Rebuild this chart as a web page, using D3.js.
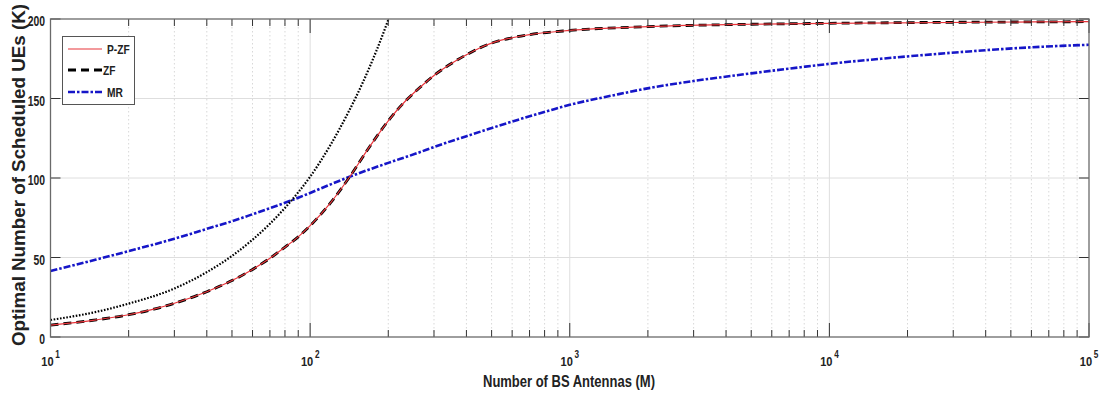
<!DOCTYPE html>
<html>
<head>
<meta charset="utf-8">
<script src="https://cdn.jsdelivr.net/npm/d3@7"></script>
<style>
  html, body { margin: 0; padding: 0; background: #fff; }
  svg { display: block; font-family: "Liberation Sans", Arial, sans-serif; }
</style>
</head>
<body>
<svg id="chart" width="1107" height="398"></svg>
<script>
// ---- data ----
const M_pzf = [10,15,20,25,30,40,50,60,70,80,90,100,120,141,170,200,230,260,300,350,400,450,500,600,700,1000,2000,5000,10000,100000];
const K_pzf = [7.5,10.8,14,17.5,21.2,28.5,35.5,42.5,49.5,56.5,63,70,84.5,100,120,136,147.5,155.8,164.5,172,177.5,181.8,184.8,188.2,190.2,192.8,195.2,196.7,197.3,198.3];
const M_zf = [10,15,20,25,30,40,50,60,70,80,90,100,120,141,170,200,230,260,300,350,400,450,500,600,700,1000,2000,5000,10000,100000];
const K_zf = [7.5,10.8,14,17.5,21.2,28.5,35.5,42.5,49.5,56.5,63,70,84.5,100,120,136,147.5,155.8,164.5,172,177.5,181.8,184.8,188.2,190.2,192.8,195.2,196.7,197.3,198.3];
const M_mr = [10,15,20,30,40,50,60,70,80,90,100,120,141,170,200,260,300,400,470,600,850,1000,1500,2060,3000,5000,7770,10000,15800,25000,38600,60000,100000];
const K_mr = [41.5,48.7,54,61.8,68,72.8,77.2,81,84.4,87.6,90.6,96,100.6,105.5,109.5,115.8,119.5,126.3,130,135.5,142.8,146,152.3,156.8,161,165.8,169.7,171.8,175,177.8,180.2,182.2,183.8];
const M_bound = [10,15,20,30,40,50,60,70,80,90,100,120,140,160,180,200,210];
const K_bound = [10.7,15.8,21,30.5,40.8,51,61.2,71.2,81.2,91,100.8,121,141,160.5,180,199.5,209];

const yTicks = [0, 50, 100, 150, 200];
const xDecades = [1, 2, 3, 4, 5];
const legendLabels = ["P-ZF", "ZF", "MR"];
const xTitle = "Number of BS Antennas (M)";
const yTitle = "Optimal Number of Scheduled UEs (K)";

// ---- layout ----
const L = 50.5, R = 1089, T = 19, B = 337;
const svg = d3.select("#chart");
const x = d3.scaleLog().domain([10, 100000]).range([L, R]);
const y = d3.scaleLinear().domain([0, 200]).range([B, T]);

const minorTicks = [];
for (let d = 1; d < 5; d++) for (let k = 2; k <= 9; k++) minorTicks.push(k * Math.pow(10, d));
const majorTicks = xDecades.map(e => Math.pow(10, e));

// grid
const grid = svg.append("g");
grid.selectAll("line.minor").data(minorTicks).join("line")
  .attr("x1", d => x(d)).attr("x2", d => x(d)).attr("y1", T).attr("y2", B)
  .attr("stroke", "#d8d8d8").attr("stroke-width", 1).attr("stroke-dasharray", "1.5,2.5");
grid.selectAll("line.majx").data(majorTicks.slice(1, -1)).join("line")
  .attr("x1", d => x(d)).attr("x2", d => x(d)).attr("y1", T).attr("y2", B)
  .attr("stroke", "#dedede").attr("stroke-width", 1);
grid.selectAll("line.majy").data(yTicks.slice(1, -1)).join("line")
  .attr("x1", L).attr("x2", R).attr("y1", d => y(d)).attr("y2", d => y(d))
  .attr("stroke", "#dedede").attr("stroke-width", 1);

// clip
svg.append("clipPath").attr("id", "clip").append("rect")
  .attr("x", L).attr("y", T).attr("width", R - L).attr("height", B - T);

const line = d3.line().x(d => x(d[0])).y(d => y(d[1])).curve(d3.curveMonotoneX);
const zip = (a, b) => a.map((v, i) => [v, b[i]]);

const plot = svg.append("g").attr("clip-path", "url(#clip)");
plot.append("path").datum(zip(M_mr, K_mr)).attr("d", line)
  .attr("fill", "none").attr("stroke", "#1616c8").attr("stroke-width", 2.6)
  .attr("stroke-dasharray", "7,2,2.5,2");
plot.append("path").datum(zip(M_bound, K_bound)).attr("d", line)
  .attr("fill", "none").attr("stroke", "#000").attr("stroke-width", 2.2)
  .attr("stroke-dasharray", "1.6,1.6");
plot.append("path").datum(zip(M_zf, K_zf)).attr("d", line)
  .attr("fill", "none").attr("stroke", "#000").attr("stroke-width", 2.8)
  .attr("stroke-dasharray", "8,5");
plot.append("path").datum(zip(M_pzf, K_pzf)).attr("d", line)
  .attr("fill", "none").attr("stroke", "#e8353b").attr("stroke-width", 1.2);

// ticks (inward)
const ticks = svg.append("g").attr("stroke", "#333").attr("stroke-width", 1);
[B, T].forEach(yy => {
  const dir = yy === B ? -1 : 1;
  ticks.selectAll(null).data(minorTicks).join("line")
    .attr("x1", d => x(d)).attr("x2", d => x(d)).attr("y1", yy).attr("y2", yy + dir * 7);
  ticks.selectAll(null).data(majorTicks).join("line")
    .attr("x1", d => x(d)).attr("x2", d => x(d)).attr("y1", yy).attr("y2", yy + dir * 14);
});
[L, R].forEach(xx => {
  const dir = xx === L ? 1 : -1;
  ticks.selectAll(null).data(yTicks).join("line")
    .attr("x1", xx).attr("x2", xx + dir * 10).attr("y1", d => y(d)).attr("y2", d => y(d));
});

// box
svg.append("rect").attr("x", L).attr("y", T).attr("width", R - L).attr("height", B - T)
  .attr("fill", "none").attr("stroke", "#6a6a6a").attr("stroke-width", 1.3);

// y tick labels
svg.append("g").selectAll("text").data(yTicks).join("text")
  .attr("transform", d => `translate(45,${y(d) + 7}) scale(0.74,1)`)
  .attr("text-anchor", "end").attr("font-size", 14).attr("font-weight", "bold")
  .attr("fill", "#222").text(d => d);

// x tick labels 10^n
const xl = svg.append("g").selectAll("g").data(xDecades).join("g")
  .attr("transform", e => `translate(${x(Math.pow(10, e)) - 3},365.5) scale(0.82,1)`);
xl.append("text").attr("text-anchor", "middle").attr("font-size", 13.5)
  .attr("font-weight", "bold").attr("fill", "#222").text("10");
xl.append("text").attr("x", 9.5).attr("y", -7.5).attr("font-size", 10)
  .attr("font-weight", "bold").attr("fill", "#222").text(e => e);

// axis titles
svg.append("text").attr("x", 569).attr("y", 387).attr("text-anchor", "middle")
  .attr("font-size", 16).attr("font-weight", "bold").attr("fill", "#222")
  .attr("textLength", 172).attr("lengthAdjust", "spacingAndGlyphs").text(xTitle);
svg.append("text").attr("transform", "translate(25,175) rotate(-90)")
  .attr("text-anchor", "middle").attr("font-size", 18).attr("font-weight", "bold")
  .attr("fill", "#222").attr("textLength", 342).attr("lengthAdjust", "spacingAndGlyphs")
  .text(yTitle);

// legend
const lg = svg.append("g");
lg.append("rect").attr("x", 62.5).attr("y", 36.5).attr("width", 72).attr("height", 68)
  .attr("fill", "#fff").attr("stroke", "#555").attr("stroke-width", 1);
const legY = [49, 70, 92];
const legStyles = [
  { stroke: "#e8353b", w: 1.2, dash: null, tx: 107 },
  { stroke: "#000", w: 2.8, dash: "8,5", tx: 103 },
  { stroke: "#1616c8", w: 2.6, dash: "7,2,2.5,2", tx: 107 }
];
legendLabels.forEach((lab, i) => {
  const s = legStyles[i];
  lg.append("line").attr("x1", 68).attr("x2", 102).attr("y1", legY[i]).attr("y2", legY[i])
    .attr("stroke", s.stroke).attr("stroke-width", s.w).attr("stroke-dasharray", s.dash);
  lg.append("text").attr("transform", `translate(${s.tx},${legY[i] + 4.5}) scale(0.85,1)`)
    .attr("font-size", 12).attr("font-weight", "bold").attr("fill", "#222").text(lab);
});
</script>
</body>
</html>
